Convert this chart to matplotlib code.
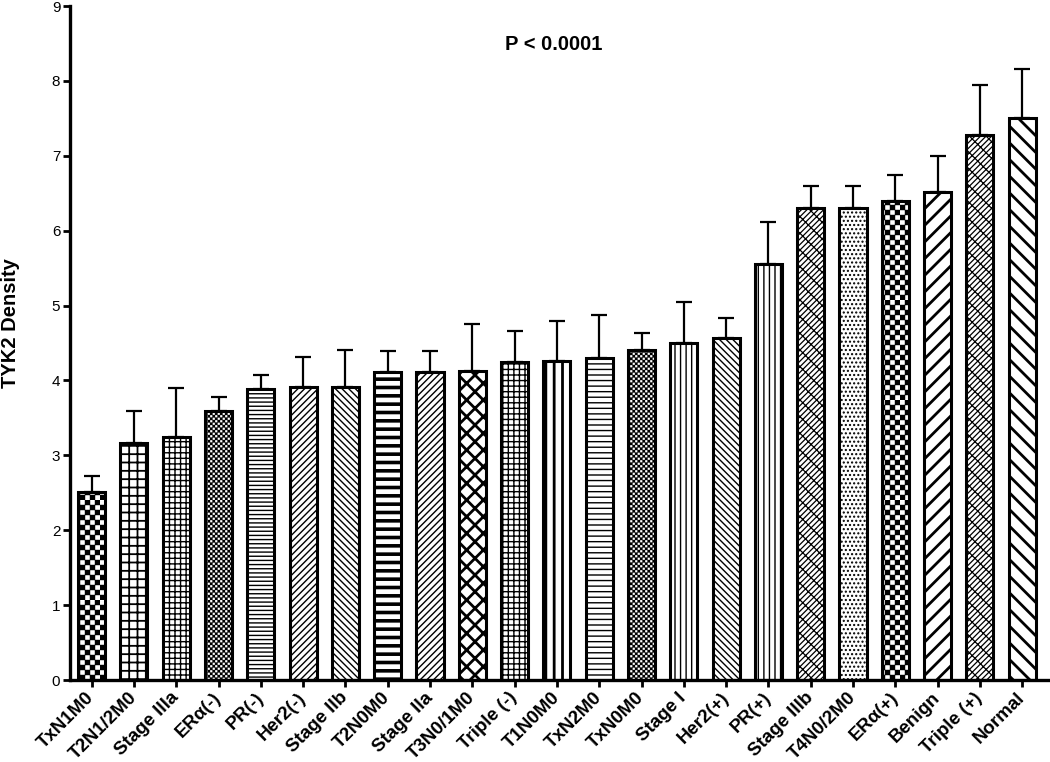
import numpy as np
import matplotlib
matplotlib.use("Agg")
import matplotlib.pyplot as plt
import matplotlib.hatch as mhatch
from matplotlib.path import Path

categories = ["TxN1M0", "T2N1/2M0", "Stage IIIa", "ERα(-)", "PR(-)", "Her2(-)",
              "Stage IIb", "T2N0M0", "Stage IIa", "T3N0/1M0", "Triple (-)", "T1N0M0",
              "TxN2M0", "TxN0M0", "Stage I", "Her2(+)", "PR(+)", "Stage IIIb",
              "T4N0/2M0", "ERα(+)", "Benign", "Triple (+)", "Normal"]
means = [2.51, 3.17, 3.25, 3.59, 3.88, 3.91, 3.91, 4.11, 4.11, 4.13, 4.24, 4.26,
         4.30, 4.41, 4.50, 4.57, 5.56, 6.30, 6.30, 6.39, 6.51, 7.28, 7.50]
errors = [0.21, 0.42, 0.65, 0.19, 0.19, 0.40, 0.50, 0.28, 0.28, 0.62, 0.42, 0.54,
          0.58, 0.22, 0.55, 0.26, 0.55, 0.30, 0.30, 0.35, 0.49, 0.67, 0.66]
yticks = [0, 1, 2, 3, 4, 5, 6, 7, 8, 9]

# styles
hatches = ['**', '++', '+++', '****', '----', '/////', '\\\\\\\\\\', '--', '/////',
           'xx', '+++', '||', '---', '****', '|||', '\\\\\\\\\\', '|||', '////xx',
           '....', '**', '//', '////xx', '\\\\']
hatch_lws = [0.3, 1.3, 1.0, 0.2, 1.0, 1.0, 1.0, 2.6, 1.0, 2.0, 1.0, 2.0, 1.0, 0.2,
             1.0, 1.0, 1.0, 0.9, 1.0, 0.3, 2.0, 0.9, 2.0]


class Checker(mhatch.HatchPatternBase):
    filled = True

    def __init__(self, hatch, density):
        self.n = hatch.count('*') * 10
        self.num_vertices = (self.n * self.n // 2) * 5

    def set_vertices_and_codes(self, vertices, codes):
        n = self.n
        s = 1.0 / n
        k = 0
        for i in range(n):
            for j in range(n):
                if (i + j) % 2 == 0:
                    x0, y0 = i * s, j * s
                    vertices[k:k + 5] = [(x0, y0), (x0 + s, y0), (x0 + s, y0 + s),
                                         (x0, y0 + s), (x0, y0)]
                    codes[k] = Path.MOVETO
                    codes[k + 1:k + 4] = Path.LINETO
                    codes[k + 4] = Path.CLOSEPOLY
                    k += 5


mhatch._hatch_types = [t for t in mhatch._hatch_types if t is not mhatch.Stars] + [Checker]

plt.rcParams['font.family'] = ['Liberation Sans', 'DejaVu Sans']

fig = plt.figure(figsize=(10.5, 7.62), dpi=100)
ax = fig.add_axes([0.0667, 0.1076, 0.931, 0.8845])

x = np.arange(len(categories))
bars = []
for i in range(len(categories)):
    plt.rcParams['hatch.linewidth'] = hatch_lws[i]
    b = ax.bar(x[i], means[i], width=0.64, color='white', edgecolor='black',
               linewidth=2.2, hatch=hatches[i], zorder=2)[0]
    if hasattr(b, 'set_hatch_linewidth'):
        b.set_hatch_linewidth(hatch_lws[i])
    bars.append(b)

ax.errorbar(x, means, yerr=[np.zeros(len(means)), errors], fmt='none',
            ecolor='black', elinewidth=1.6, capsize=5.6, capthick=1.6, zorder=1)

ax.set_xlim(-0.51, 22.6)
ax.set_ylim(0, 9)
ax.set_yticks(yticks)
ax.set_yticklabels([str(t) for t in yticks], fontsize=11)
ax.set_xticks(x)
ax.set_xticklabels(categories, rotation=45, ha='right', va='center',
                   rotation_mode='anchor', fontsize=13.5, fontweight='bold')
ax.tick_params(axis='both', direction='out', length=5, width=2)
ax.tick_params(axis='x', pad=6)
ax.tick_params(axis='y', pad=2)
for s in ['top', 'right']:
    ax.spines[s].set_visible(False)
for s in ['left', 'bottom']:
    ax.spines[s].set_linewidth(2.4)

ax.set_ylabel('TYK2 Density', fontsize=14.5, fontweight='bold')
ax.yaxis.set_label_coords(-0.051, 0.53)
ax.text(10.93, 8.48, 'P < 0.0001', ha='center', va='center', fontsize=14.5,
        fontweight='bold')

fig.savefig('out.png', dpi=100)
